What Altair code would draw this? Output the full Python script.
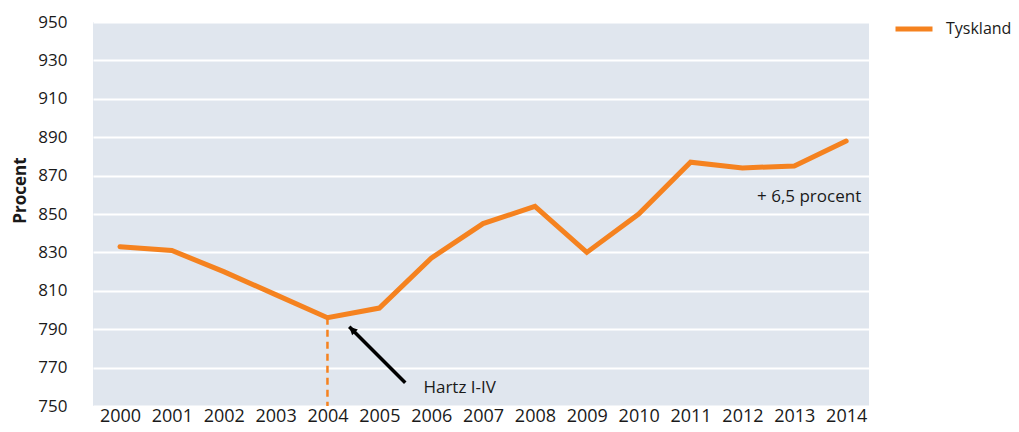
import altair as alt
import pandas as pd

# ---- data ----
years = list(range(2000, 2015))
values = [833, 831, 820, 808, 796, 801, 827, 845, 854, 830, 850, 877, 874, 875, 888]
series_name = "Tyskland"
y_ticks = list(range(750, 951, 20))

# dashed marker at the Hartz reform year
hartz_year = [2004, 2004]
hartz_value = [796, 750]

# annotations
pct_text = ["+ 6,5 procent"]
pct_x = [2014.29]
pct_y = [859]

hartz_text = ["Hartz I-IV"]
hartz_tx = [2005.85]
hartz_ty = [759.5]

arrow_x = [2005.50, 2004.42]
arrow_y = [762.1, 791.3]

ORANGE = "#f5821f"
FONT = "Open Sans"
TXT = "#1a1a1a"

df = pd.DataFrame({"year": years, "value": values, "series": [series_name] * len(years)})
df_h = pd.DataFrame({"year": hartz_year, "value": hartz_value})
df_pct = pd.DataFrame({"x": pct_x, "y": pct_y, "t": pct_text})
df_hz = pd.DataFrame({"x": hartz_tx, "y": hartz_ty, "t": hartz_text})
df_arr = pd.DataFrame({"x": [arrow_x[0]], "y": [arrow_y[0]], "x2": [arrow_x[1]], "y2": [arrow_y[1]]})
df_head = pd.DataFrame({"x": [arrow_x[1]], "y": [arrow_y[1]]})

xscale = alt.Scale(domain=[1999.48, 2014.44], nice=False, zero=False)
yscale = alt.Scale(domain=[750, 950], nice=False, zero=False)

xaxis = alt.Axis(values=years, format="d", grid=False, ticks=False, tickSize=0, domain=False,
                 labelPadding=1, labelFontSize=18, labelFont=FONT, labelColor=TXT, title=None,
                 labelOverlap=False)
yaxis = alt.Axis(values=y_ticks, grid=True, gridColor="white", gridWidth=2, ticks=False, tickSize=0,
                 domain=False, labelPadding=26, labelFontSize=17, labelFont=FONT, labelColor=TXT,
                 labelOverlap=False,
                 title="Procent", titleFont=FONT, titleFontSize=17, titleFontWeight="bold",
                 titleColor=TXT, titleX=-68, titleY=168, titleAlign="center",
                 titleBaseline="alphabetic", titleAngle=270)

X = lambda f: alt.X(f, scale=xscale, axis=xaxis)
Y = lambda f: alt.Y(f, scale=yscale, axis=yaxis)

line = alt.Chart(df).mark_line(strokeWidth=5, strokeCap="round").encode(
    x=X("year:Q"),
    y=Y("value:Q"),
    color=alt.Color("series:N", scale=alt.Scale(domain=[series_name], range=[ORANGE]),
                    legend=alt.Legend(title=None, orient="none", legendX=800, legendY=-14,
                                      padding=0,
                                      symbolType="stroke", symbolStrokeWidth=5, symbolSize=1369,
                                      symbolStrokeColor=ORANGE,
                                      labelFontSize=16, labelFont=FONT, labelColor=TXT,
                                      labelOffset=11)),
)

dashed = alt.Chart(df_h).mark_line(color=ORANGE, strokeWidth=2.5, strokeDash=[7, 5]).encode(
    x=X("year:Q"),
    y=Y("value:Q"),
)

arrow = alt.Chart(df_arr).mark_rule(color="black", strokeWidth=3.5).encode(
    x=X("x:Q"), y=Y("y:Q"),
    x2="x2:Q", y2="y2:Q",
)

head = alt.Chart(df_head).mark_point(
    shape="M0,0 L0.55,1.1 L-0.55,1.1 Z", filled=True, color="black", opacity=1,
    size=220, angle=315, strokeWidth=0,
).encode(x=X("x:Q"), y=Y("y:Q"))

pct = alt.Chart(df_pct).mark_text(align="right", baseline="middle", fontSize=17, font=FONT, color=TXT).encode(
    x=X("x:Q"), y=Y("y:Q"), text="t:N"
)
hz = alt.Chart(df_hz).mark_text(align="left", baseline="middle", fontSize=17, font=FONT, color=TXT).encode(
    x=X("x:Q"), y=Y("y:Q"), text="t:N"
)

chart = alt.layer(line, dashed, arrow, head, pct, hz).properties(
    width=776, height=384,
    padding={"left": 85, "top": 14, "right": 142, "bottom": 16},
    autosize=alt.AutoSizeParams(type="none"),
    background="white",
).configure_view(fill="#e0e6ee", stroke=None)

chart.save("out.html", embed_options={"renderer": "svg", "actions": False})
